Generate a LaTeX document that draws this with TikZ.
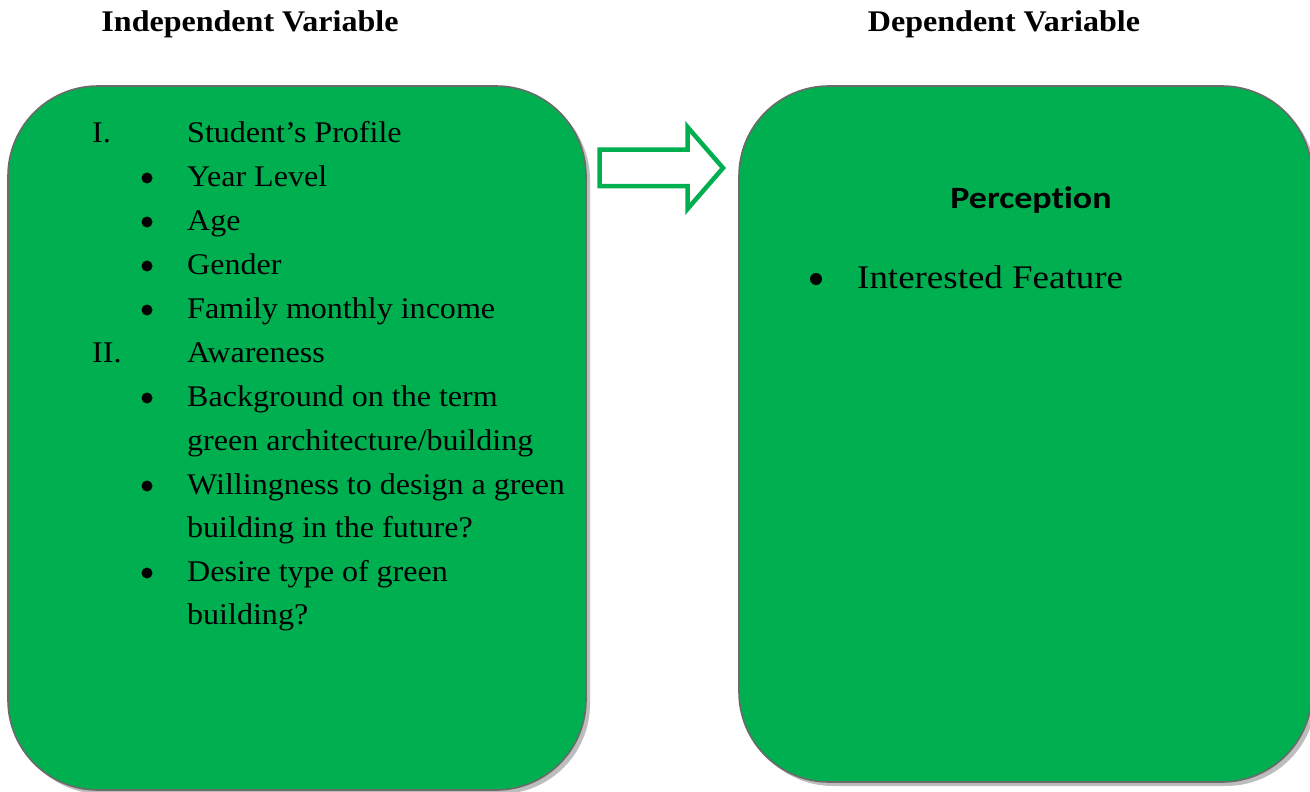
\documentclass[tikz,border=0pt]{standalone}
\usepackage{fontspec}
\setmainfont{Liberation Serif}[FakeStretch=1.068]
\newfontfamily\wideserif{Liberation Serif}[FakeStretch=1.12]
\newfontfamily\calibri{Carlito}[FakeStretch=1.16, Ligatures=NoCommon]
\usetikzlibrary{shadows}
\definecolor{boxgreen}{HTML}{00AF50}
\definecolor{edgegray}{HTML}{6A6A6A}
\definecolor{shade}{HTML}{BDBDBD}
\tikzset{
  panel/.style={draw=edgegray, line width=1.6pt, fill=boxgreen, rounded corners=90pt,
    drop shadow={shadow xshift=4pt, shadow yshift=-4pt, fill=shade, opacity=1}},
  heading/.style={font=\fontsize{30}{36}\selectfont\bfseries, anchor=base, inner sep=0pt},
  item/.style={font=\fontsize{30}{36}\selectfont, anchor=base west, inner sep=0pt},
  bigitem/.style={font=\wideserif\fontsize{33}{40}\selectfont, anchor=base west, inner sep=0pt},
  dot/.style={circle, fill=black, inner sep=0pt, minimum size=11pt},
  bigdot/.style={circle, fill=black, inner sep=0pt, minimum size=12pt},
  blockarrow/.style={draw=boxgreen, line width=4.5pt, fill=white, line join=miter}
}
\begin{document}
\begin{tikzpicture}[x=1pt, y=-1pt]
\useasboundingbox (0,0) rectangle (1310,792);

% column headings
\node[heading] (hind) at (250,32) {Independent Variable};
\node[heading] (hdep) at (1004,32) {Dependent Variable};

% the two panels
\node[panel, minimum width=578pt, minimum height=704pt, inner sep=0pt] (left) at (297,438) {};
\node[panel, minimum width=573pt, minimum height=696pt, inner sep=0pt] (right) at (1025.5,434) {};

% outlined block arrow between the panels
\draw[blockarrow] (599.5,149.5) -- (687.5,149.5) -- (687.5,127) -- (723,168) -- (687.5,209) -- (687.5,186) -- (599.5,186) -- cycle;

% independent variable list
\node[item] (r1)  at (92,142)  {I.};
\node[item] (t1)  at (187,142) {Student’s Profile};
\node[dot]  (b2)  at (147,178) {};
\node[item] (t2)  at (187,186) {Year Level};
\node[dot]  (b3)  at (147,222) {};
\node[item] (t3)  at (187,230) {Age};
\node[dot]  (b4)  at (147,266) {};
\node[item] (t4)  at (187,274) {Gender};
\node[dot]  (b5)  at (147,310) {};
\node[item] (t5)  at (187,318) {Family monthly income};
\node[item] (r2)  at (92,362)  {II.};
\node[item] (t6)  at (187,362) {Awareness};
\node[dot]  (b7)  at (147,398) {};
\node[item] (t7)  at (187,406) {Background on the term};
\node[item] (t7b) at (187,450) {green architecture/building};
\node[dot]  (b8)  at (147,486) {};
\node[item] (t8)  at (187,494) {Willingness to design a green};
\node[item] (t8b) at (187,537) {building in the future?};
\node[dot]  (b9)  at (147,573) {};
\node[item] (t9)  at (187,581) {Desire type of green};
\node[item] (t9b) at (187,624) {building?};

% dependent variable content
\node[font=\calibri\fontsize{31}{37}\selectfont\bfseries, anchor=base, inner sep=0pt] (perc) at (1031,208) {Perception};
\node[bigdot]  (bp) at (816,279) {};
\node[bigitem] (tp) at (857,288) {Interested Feature};
\end{tikzpicture}
\end{document}
